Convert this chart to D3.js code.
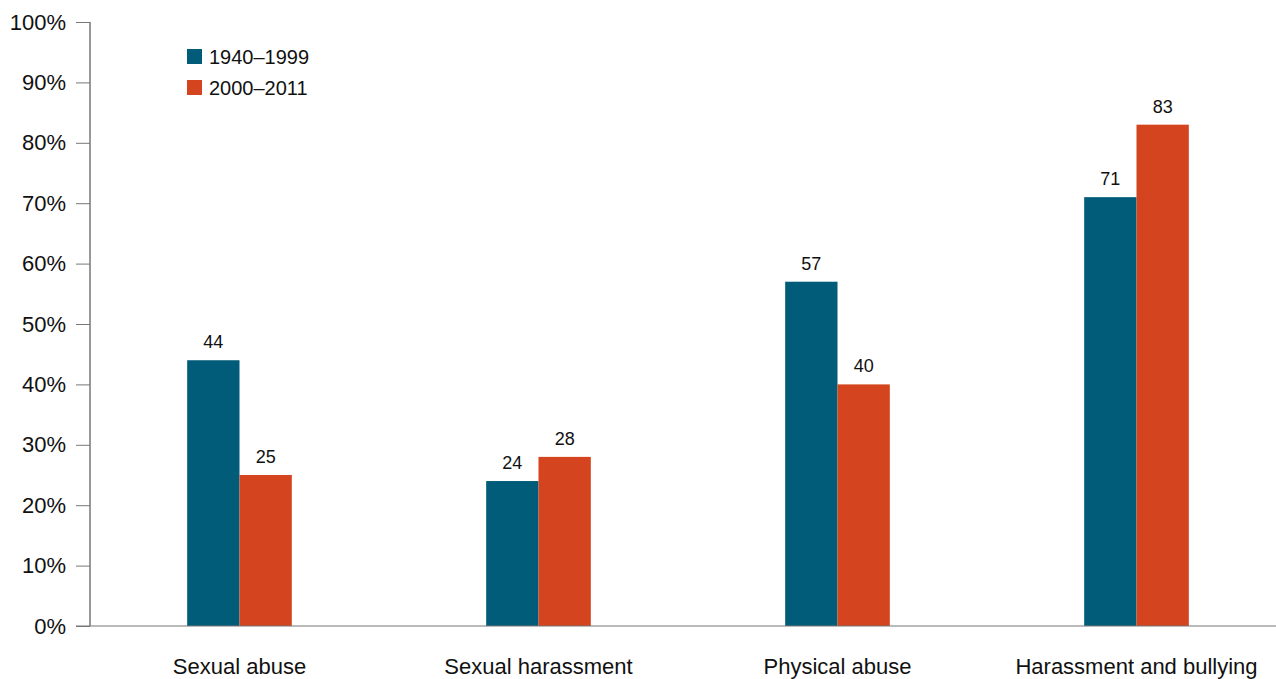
<!DOCTYPE html>
<html>
<head>
<meta charset="utf-8">
<script src="https://cdn.jsdelivr.net/npm/d3@7"></script>
<style>
  html, body { margin: 0; padding: 0; background: #fff; overflow: hidden; }
  text { font-family: "Liberation Sans", Arial, sans-serif; fill: #111; }
</style>
</head>
<body>
<svg id="chart" width="1276" height="679"></svg>
<script>
const categories = ["Sexual abuse", "Sexual harassment", "Physical abuse", "Harassment and bullying"];
const seriesNames = ["1940\u20131999", "2000\u20132011"];
const values1940 = [44, 24, 57, 71];
const values2000 = [25, 28, 40, 83];
const yTicks = [0, 10, 20, 30, 40, 50, 60, 70, 80, 90, 100];
const colors = ["#005c78", "#d4451f"];

const svg = d3.select("#chart");
const mLeft = 90, mRight = 1286, mTop = 22, mBottom = 626;

const x0 = d3.scaleBand().domain(categories).range([mLeft, mRight])
  .paddingInner(0.65).paddingOuter(0.325);
const x1 = d3.scaleBand().domain(seriesNames).range([0, x0.bandwidth()]);
const y = d3.scaleLinear().domain([0, 100]).range([mBottom, mTop]);
const color = d3.scaleOrdinal().domain(seriesNames).range(colors);

const rows = categories.map((c, i) => ({ cat: c, vals: [
  { s: seriesNames[0], v: values1940[i] },
  { s: seriesNames[1], v: values2000[i] }
]}));

// y axis
const yAxis = svg.append("g").attr("transform", `translate(${mLeft},0)`)
  .call(d3.axisLeft(y).tickValues(yTicks).tickFormat(d => d + "%").tickSize(14).tickPadding(10));
yAxis.select(".domain").attr("stroke", "#333").attr("d", `M0,${mTop}V${mBottom}`);
yAxis.selectAll(".tick line").attr("stroke", "#777");
yAxis.selectAll(".tick text").style("font-size", "22px").attr("fill", "#111")
  .style("font-family", "'Liberation Sans', Arial, sans-serif");

// bars
const groups = svg.append("g").selectAll("g").data(rows).join("g")
  .attr("transform", d => `translate(${x0(d.cat)},0)`);
groups.selectAll("rect").data(d => d.vals).join("rect")
  .attr("x", d => x1(d.s))
  .attr("y", d => y(d.v))
  .attr("width", x1.bandwidth())
  .attr("height", d => y(0) - y(d.v))
  .attr("fill", d => color(d.s));
groups.selectAll("text.val").data(d => d.vals).join("text")
  .attr("class", "val")
  .attr("x", d => x1(d.s) + x1.bandwidth() / 2)
  .attr("y", d => y(d.v) - 12)
  .attr("text-anchor", "middle")
  .style("font-size", "18px")
  .text(d => d.v);

// x axis baseline
const xAxis = svg.append("g").attr("transform", `translate(0,${mBottom})`)
  .call(d3.axisBottom(x0).tickSize(0).tickPadding(32));
xAxis.select(".domain").attr("stroke", "#777").attr("d", `M76,0H${mRight}`);
xAxis.selectAll(".tick text").style("font-size", "22px").attr("fill", "#111")
  .style("font-family", "'Liberation Sans', Arial, sans-serif");

// legend
const legend = svg.append("g").attr("transform", "translate(187,49)");
const li = legend.selectAll("g").data(seriesNames).join("g")
  .attr("transform", (d, i) => `translate(0,${i * 31})`);
li.append("rect").attr("width", 15).attr("height", 15).attr("fill", d => color(d));
li.append("text").attr("x", 22).attr("y", 15).style("font-size", "20px").text(d => d);
</script>
</body>
</html>
